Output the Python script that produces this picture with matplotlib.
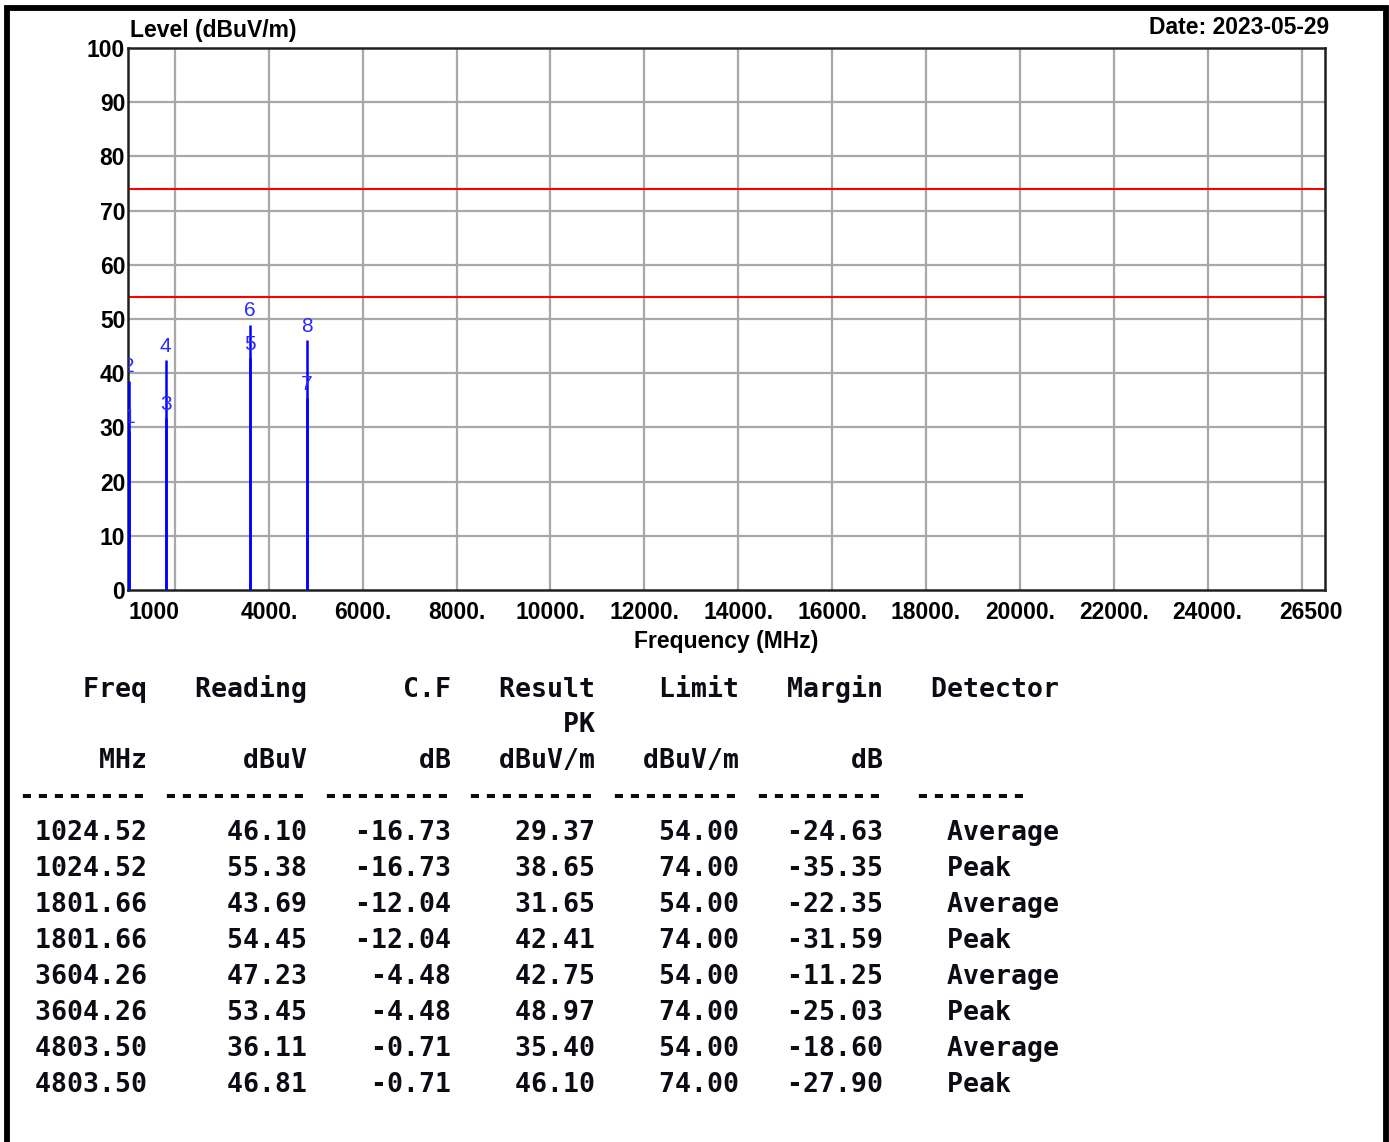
import matplotlib
matplotlib.use("Agg")
import matplotlib.pyplot as plt
import matplotlib.transforms as mtransforms
from matplotlib.lines import Line2D

# measured data (EMI scan, 1-26.5 GHz)
freq = [1024.52, 1024.52, 1801.66, 1801.66, 3604.26, 3604.26, 4803.50, 4803.50]
reading = [46.10, 55.38, 43.69, 54.45, 47.23, 53.45, 36.11, 46.81]
cf = [-16.73, -16.73, -12.04, -12.04, -4.48, -4.48, -0.71, -0.71]
result = [29.37, 38.65, 31.65, 42.41, 42.75, 48.97, 35.40, 46.10]
limit = [54.00, 74.00, 54.00, 74.00, 54.00, 74.00, 54.00, 74.00]
margin = [-24.63, -35.35, -22.35, -31.59, -11.25, -25.03, -18.60, -27.90]
detector = ["Average", "Peak", "Average", "Peak", "Average", "Peak", "Average", "Peak"]

limit_lines = [74, 54]
xtick_vals = [1000, 4000, 6000, 8000, 10000, 12000, 14000, 16000, 18000,
              20000, 22000, 24000, 26500]
xtick_labels = ["1000", "4000.", "6000.", "8000.", "10000.", "12000.", "14000.",
                "16000.", "18000.", "20000.", "22000.", "24000.", "26500"]
xgrid_vals = list(range(2000, 26001, 2000))
ytick_vals = list(range(0, 101, 10))

W, H = 1389, 1142
fig = plt.figure(figsize=(W / 100, H / 100), dpi=100)
fig.patch.set_facecolor("white")

sans = "Liberation Sans"
mono = "DejaVu Sans Mono"

ax = fig.add_axes([128 / W, 1 - 590 / H, (1325 - 128) / W, (590 - 48) / H])
ax.set_xlim(1000, 26500)
ax.set_ylim(0, 100)

# grid
for g in xgrid_vals:
    ax.axvline(g, color="#a8a8a8", lw=1.6, zorder=1)
for g in ytick_vals[1:-1]:
    ax.axhline(g, color="#a8a8a8", lw=1.6, zorder=1)

# limit lines
for lv in limit_lines:
    ax.axhline(lv, color="red", lw=1.5, zorder=2)

# marker lines and numbers
for f, r in zip(freq, result):
    ax.vlines(f, 0, r, color="blue", lw=1.8, zorder=3)
for i, (f, r) in enumerate(zip(freq, result)):
    ax.annotate(str(i + 1), (f, r), xytext=(0, 3), textcoords="offset points",
                ha="center", va="bottom", color="#2a2aff", fontsize=15,
                family=sans, zorder=4, annotation_clip=False, clip_on=True)

for s in ax.spines.values():
    s.set_linewidth(1.8)
    s.set_color("#202020")

ax.set_xticks(xtick_vals)
ax.set_xticklabels(xtick_labels)
ax.set_yticks(ytick_vals)
ax.set_yticklabels([str(v) for v in ytick_vals])
ax.tick_params(length=0, labelsize=16.5, pad=2)
ax.tick_params(axis="x", pad=8)
for lab in ax.get_xticklabels() + ax.get_yticklabels():
    lab.set_fontfamily(sans)
    lab.set_fontweight("bold")
xl = ax.get_xticklabels()
xl[0].set_horizontalalignment("left")
xl[-1].set_transform(xl[-1].get_transform() +
                     mtransforms.ScaledTranslation(-14 / 100, 0, fig.dpi_scale_trans))

ax.set_xlabel("Frequency (MHz)", fontsize=16.5, fontweight="bold", family=sans, labelpad=4)
fig.text(130 / W, 1 - 31 / H, "Level (dBuV/m)", fontsize=16.5, fontweight="bold",
         family=sans, ha="left", va="center")
fig.text(1329 / W, 1 - 28 / H, "Date: 2023-05-29", fontsize=16.5, fontweight="bold",
         family=sans, ha="right", va="center")

# table below the chart
header = [
    f"{'Freq':>8}{'Reading':>10}{'C.F':>9}{'Result':>9}{'Limit':>9}{'Margin':>9}   Detector",
    f"{'':>8}{'':>10}{'':>9}{'PK':>9}",
    f"{'MHz':>8}{'dBuV':>10}{'dB':>9}{'dBuV/m':>9}{'dBuV/m':>9}{'dB':>9}",
    "-------- --------- -------- -------- -------- --------  -------",
]
rows = [f"{a:>8.2f}{b:>10.2f}{c:>9.2f}{d:>9.2f}{e:>9.2f}{m:>9.2f}    {det}"
        for a, b, c, d, e, m, det in zip(freq, reading, cf, result, limit, margin, detector)]

y0 = 689
for k, line in enumerate(header + rows):
    fig.text(19 / W, 1 - (y0 + 36 * k) / H, line, family=mono, fontweight="bold",
             fontsize=19.1, ha="left", va="center", color="#0c0c14")

# outer frame
fig.add_artist(Line2D([7.5 / W, 7.5 / W, 1386 / W, 1386 / W],
                      [0, 1 - 7.5 / H, 1 - 7.5 / H, 0],
                      color="black", lw=4.2, solid_joinstyle="miter"))

fig.savefig("out.png", dpi=100)
